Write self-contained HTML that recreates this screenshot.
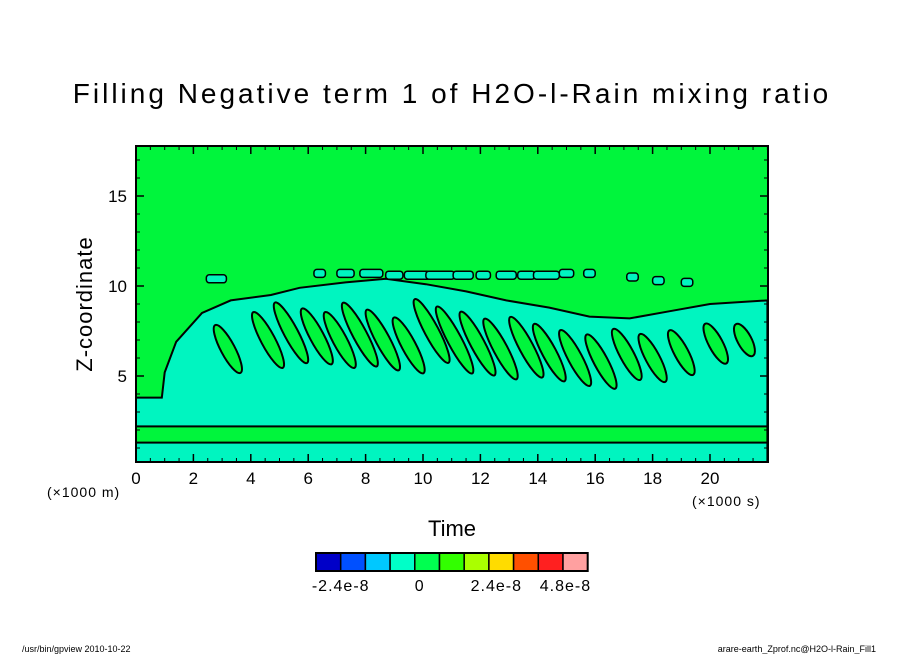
<!DOCTYPE html>
<html><head><meta charset="utf-8"><style>
body{margin:0;background:#fff;}
svg text{font-family:"Liberation Sans","DejaVu Sans",sans-serif;}
</style></head><body>
<svg id="chart" width="904" height="654" viewBox="0 0 904 654">
<text x="452" y="103" font-size="28" text-anchor="middle" letter-spacing="3">Filling Negative term 1 of H2O-l-Rain mixing ratio</text>
<g id="plot"></g>
<g id="axes"></g>
<text x="452" y="536" font-size="22" text-anchor="middle">Time</text>
<text transform="translate(92,304) rotate(-90)" font-size="22" text-anchor="middle" letter-spacing="1">Z-coordinate</text>
<text x="47" y="497" font-size="14" letter-spacing="1">(×1000 m)</text>
<text x="692" y="506" font-size="14" letter-spacing="1">(×1000 s)</text>
<g id="cbar"></g>
<text x="22" y="652" font-size="9">/usr/bin/gpview  2010-10-22</text>
<text x="876" y="652" font-size="9" text-anchor="end">arare-earth_Zprof.nc@H2O-l-Rain_Fill1</text>
</svg>
<script>
const xTicks=[0,2,4,6,8,10,12,14,16,18,20];
const yTicks=[5,10,15];
const cbColors=["#0000c8","#0050ff","#00c8ff","#00ffc8","#00ff50","#32ff00","#aaff00","#ffdc00","#ff5000","#ff2020","#ffa0a0"];
const cbLabels=["-2.4e-8","0","2.4e-8","4.8e-8"];
const cbLabelPos=[1,4.2,7.3,10.1];
const blobT=[0,0.9,1.0,1.4,2.3,3.3,4.7,5.7,7.3,8.7,10.1,11.5,12.9,14.4,15.8,17.2,18.6,20.0,22.0,22.0,0];
const blobZ=[3.8,3.8,5.2,6.9,8.5,9.2,9.5,9.9,10.2,10.4,10.1,9.7,9.2,8.8,8.3,8.2,8.6,9.0,9.2,0.2,0.2];
const stT=[3.2,4.6,5.4,6.3,7.1,7.8,8.6,9.5,10.3,11.1,11.9,12.7,13.6,14.4,15.3,16.2,17.1,18.0,19.0,20.2,21.2];
const stZ=[6.5,7.0,7.4,7.2,7.0,7.3,7.0,6.7,7.5,7.0,6.8,6.5,6.6,6.3,6.0,5.8,6.2,6.0,6.3,6.8,7.0];
const stL=[3.0,3.5,3.8,3.5,3.5,4.0,3.8,3.5,4.0,4.2,4.0,3.8,3.8,3.6,3.5,3.4,3.2,3.0,2.8,2.5,2.0];
// upper isolated patches: time, z, width (×1000 s)
const ptT=[2.8,6.4,7.3,8.2,9.0,9.8,10.6,11.4,12.1,12.9,13.6,14.3,15.0,15.8,17.3,18.2,19.2];
const ptZ=[10.4,10.7,10.7,10.7,10.6,10.6,10.6,10.6,10.6,10.6,10.6,10.6,10.7,10.7,10.5,10.3,10.2];
const ptW=[0.7,0.4,0.6,0.8,0.6,0.9,1.0,0.7,0.5,0.7,0.6,0.9,0.5,0.4,0.4,0.4,0.4];
const X0=136,X1=768,Y0=146,Y1=462;
const xs=t=>X0+t*28.7, ys=z=>376-(z-5)*18;
const NS="http://www.w3.org/2000/svg";
function mk(tag,attrs,parent){const e=document.createElementNS(NS,tag);for(const k in attrs)e.setAttribute(k,attrs[k]);parent.appendChild(e);return e;}
const plot=document.getElementById('plot');
const defs=mk('defs',{},plot);
const cp=mk('clipPath',{id:'clip'},defs);
mk('rect',{x:X0,y:Y0,width:X1-X0,height:Y1-Y0},cp);
const g=mk('g',{'clip-path':'url(#clip)'},plot);
const bg=mk('rect',{x:X0,y:Y0,width:X1-X0,height:Y1-Y0,fill:'#00f53c'},g);


let d='';blobT.forEach((t,i)=>{d+=(i?'L':'M')+xs(t)+','+ys(blobZ[i]);});
const blob=mk('path',{d:d+'Z',fill:'#00f5c0',stroke:'#000','stroke-width':2},g);


stT.forEach((t,i)=>{
  const cx=xs(t),cy=ys(stZ[i]),h=stL[i]*18/2;
  const e=mk('ellipse',{cx:cx,cy:cy,rx:7,ry:h,fill:'#00f53c',stroke:'#000','stroke-width':2,transform:`rotate(-28 ${cx} ${cy})`},g);
  
  
});
ptT.forEach((t,i)=>{
  const w=ptW[i]*28.7;
  const r=mk('rect',{x:xs(t)-w/2,y:ys(ptZ[i])-4,width:w,height:8,rx:3,fill:'#00f5c0',stroke:'#000','stroke-width':1.5},g);
  
  
});
const lb=mk('rect',{x:xs(0),y:ys(2.2),width:xs(22)-xs(0),height:ys(1.3)-ys(2.2),fill:'#00f53c',stroke:'#000','stroke-width':2},g);


mk('rect',{x:X0,y:Y0,width:X1-X0,height:Y1-Y0,fill:'none',stroke:'#000','stroke-width':2},plot);
const ax=document.getElementById('axes');
for(let t=0;t<=22;t+=0.5){const x=xs(t);mk('line',{x1:x,y1:Y1,x2:x,y2:Y1-4,stroke:'#000','stroke-width':1},ax);mk('line',{x1:x,y1:Y0,x2:x,y2:Y0+4,stroke:'#000','stroke-width':1},ax);}
for(let z=1;z<=17;z+=1){const y=ys(z);mk('line',{x1:X0,y1:y,x2:X0+4,y2:y,stroke:'#000','stroke-width':1},ax);mk('line',{x1:X1,y1:y,x2:X1-4,y2:y,stroke:'#000','stroke-width':1},ax);}
xTicks.forEach(t=>{
  const x=xs(t);
  mk('line',{x1:x,y1:Y1,x2:x,y2:Y1-8,stroke:'#000','stroke-width':1.5},ax);
  mk('line',{x1:x,y1:Y0,x2:x,y2:Y0+8,stroke:'#000','stroke-width':1.5},ax);
  const tx=mk('text',{x:x,y:484,'font-size':17,'text-anchor':'middle'},ax);
  tx.textContent=t;
  
  
});
yTicks.forEach(z=>{
  const y=ys(z);
  mk('line',{x1:X0,y1:y,x2:X0+8,y2:y,stroke:'#000','stroke-width':1.5},ax);
  mk('line',{x1:X1,y1:y,x2:X1-8,y2:y,stroke:'#000','stroke-width':1.5},ax);
  const tx=mk('text',{x:127,y:y+6,'font-size':17,'text-anchor':'end'},ax);
  tx.textContent=z;
  
  
});
const cb=document.getElementById('cbar');
const bw=24.7;
cbColors.forEach((c,i)=>{
  const r=mk('rect',{x:316+i*bw,y:553,width:bw,height:18,fill:c,stroke:'#000','stroke-width':1.5},cb);
  
  
});
mk('rect',{x:316,y:553,width:bw*11,height:18,fill:'none',stroke:'#000','stroke-width':2},cb);
cbLabels.forEach((l,i)=>{
  const tx=mk('text',{x:316+cbLabelPos[i]*bw,y:591,'font-size':16,'text-anchor':'middle','letter-spacing':1},cb);
  tx.textContent=l;
  
  
});
</script>
</body></html>
